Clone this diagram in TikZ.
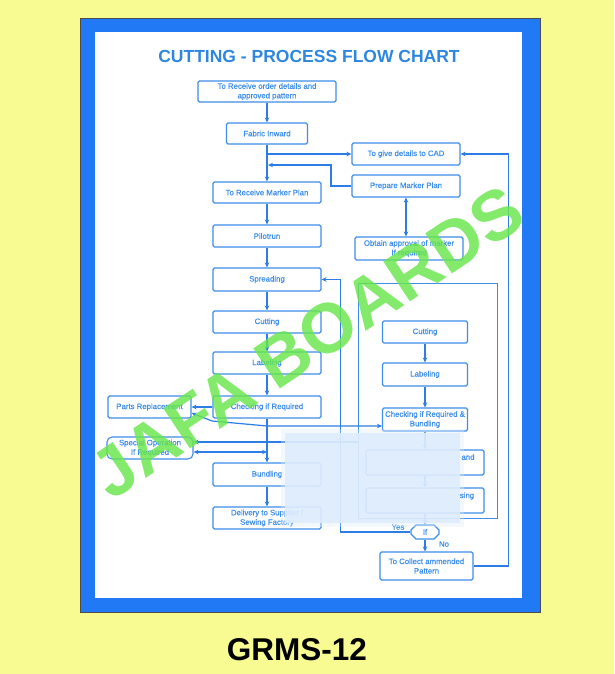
\documentclass[tikz,border=0pt]{standalone}
\usepackage{fontspec}
\setmainfont{Liberation Sans}
\newfontfamily\boxfont[FakeBold=0.5]{Liberation Sans}
\usetikzlibrary{arrows.meta,shapes.misc}
\definecolor{bgyellow}{RGB}{248,250,146}
\definecolor{frameblue}{RGB}{33,121,245}
\definecolor{chart}{RGB}{62,142,236}
\definecolor{chartline}{RGB}{45,125,230}
\definecolor{titleblue}{RGB}{45,135,225}
\definecolor{wmgreen}{RGB}{104,230,76}
\definecolor{blurblue}{RGB}{222,236,252}
\begin{document}
\begin{tikzpicture}[x=1pt,y=-1pt,
  box/.style={draw=chart, line width=1.1pt, rounded corners=1.5pt, text=chart,
    font=\boxfont\fontsize{7.8}{9.5}\selectfont, align=center, inner sep=0pt,
    minimum width=108pt, minimum height=22pt},
  conn/.style={draw=chartline, line width=1.2pt, -{Stealth[length=5pt,width=4.5pt]}},
  dconn/.style={draw=chartline, line width=1.2pt, {Stealth[length=5pt,width=4.5pt]}-{Stealth[length=5pt,width=4.5pt]}},
  lbl/.style={text=chart, font=\boxfont\fontsize{7.8}{9.5}\selectfont, inner sep=0pt}]
\fill[bgyellow] (0,0) rectangle (614,674);
\useasboundingbox (0,0) rectangle (614,674);
\fill[frameblue] (80,18) rectangle (540,612);
\draw[black!70, line width=0.8pt] (80,18) rectangle (540,612);
\fill[white] (95,32) rectangle (522,598);

\node[text=titleblue, font=\bfseries\fontsize{17.5}{20}\selectfont] (title) at (309,56) {CUTTING - PROCESS FLOW CHART};

% left column
\node[box, minimum width=138pt, minimum height=21pt] (recv) at (267,91.5) {To Receive order details and\\approved pattern};
\node[box, minimum width=81pt, minimum height=21pt] (fabric) at (267,133.5) {Fabric Inward};
\node[box, minimum height=21pt] (rmp) at (267,192.5) {To Receive Marker Plan};
\node[box] (pilot) at (267,236) {Pilotrun};
\node[box, minimum height=23pt] (spread) at (267,279.5) {Spreading};
\node[box] (cut) at (267,322) {Cutting};
\node[box] (label) at (267,363) {Labeling};
\node[box] (check) at (267,407) {Checking if Required};
\node[box, minimum height=23pt] (bundle) at (267,474.5) {Bundling};
\node[box] (deliver) at (267,518) {Delivery to Supplier /\\Sewing Factory};
\node[box, minimum width=83pt] (parts) at (149.5,407) {Parts Replacement};
\node[box, minimum width=86pt, rounded corners=5pt] (special) at (150,448) {Special Operation\\If Required};

% upper right
\node[box] (cad) at (406,154) {To give details to CAD};
\node[box] (prep) at (406,186) {Prepare Marker Plan};
\node[box, minimum height=23pt] (obtain) at (409,248.5) {Obtain approval of marker\\If required};

% right group
\node[draw=chart, line width=1pt, inner sep=0pt, minimum width=139pt, minimum height=235pt] (group) at (427.5,400.5) {};
\node[box, minimum width=85pt] (rcut) at (425,332) {Cutting};
\node[box, minimum width=85pt, minimum height=23pt] (rlabel) at (425,374.5) {Labeling};
\node[box, minimum width=85pt, minimum height=23pt] (rcheck) at (425,419.5) {Checking if Required \&\\Bundling};
\node[box, minimum width=118pt, minimum height=25pt] (rb1) at (425,462.5) {};
\node[box, minimum width=118pt, minimum height=25pt] (rb2) at (425,500.5) {};
\node[box, chamfered rectangle, chamfered rectangle xsep=6pt, chamfered rectangle ysep=5pt, rounded corners=0pt, minimum width=28pt, minimum height=14pt] (ifn) at (425,532) {If};
\node[box, minimum width=93pt, minimum height=28pt] (collect) at (426.5,566) {To Collect ammended\\Pattern};

% connectors
\draw[conn] (recv.south) -- (fabric.north);
\draw[conn] (fabric.south) -- (rmp.north);
\draw[conn] (fabric.south |- cad.west) -- (cad.west);
\coordinate (j2) at (268,165);
\draw[conn] (prep.west) -- (331,186) -- (331,165) -- (j2);
\draw[dconn] (prep.south) -- (prep.south |- obtain.north);
\draw[conn] (rmp.south) -- (pilot.north);
\draw[conn] (pilot.south) -- (spread.north);
\draw[conn] (spread.south) -- (cut.north);
\draw[conn] (cut.south) -- (label.north);
\draw[conn] (label.south) -- (check.north);
\draw[conn] (check.south) -- (bundle.north);
\draw[conn] (bundle.south) -- (deliver.north);
\draw[conn] (check.west) -- (parts.east);
\draw[dconn] ([yshift=-6pt]parts.east) -- (212,421) -- (267,426) -- ([yshift=-6.5pt]rcheck.west);
\draw[conn] ([yshift=6pt]special.east -| group.west) -- ([yshift=6pt]special.east);
\draw[dconn] ([yshift=-4pt]special.east) -- ([yshift=-4pt]special.east -| check.south);
\draw[conn] (rcut.south) -- (rlabel.north);
\draw[conn] (rlabel.south) -- (rcheck.north);
\draw[conn] (rcheck.south) -- (rb1.north);
\draw[conn] (rb1.south) -- (rb2.north);
\draw[conn] (rb2.south) -- (ifn.north);
\draw[conn] (ifn.west) -| ([xshift=19pt]spread.east) -- (spread.east);
\draw[conn] (ifn.south) -- (ifn.south |- collect.north);
\draw[conn] (collect.east) -| ([xshift=48pt]cad.east) -- (cad.east);
\node[lbl] (yes) at (398,527) {Yes};
\node[lbl] (no) at (444,544) {No};

% blurred patch
\fill[blurblue, opacity=0.35] (281,429) rectangle (464,527);
\fill[blurblue, opacity=0.88] (285,433) rectangle (460,523);
\node[lbl] (andtxt) at (468,457) {and};
\node[lbl] (singtxt) at (467,496) {sing};

% watermark
\node[text=wmgreen, opacity=0.82, font=\fontsize{70}{70}\selectfont\bfseries, rotate=33.7, inner sep=0pt] (wm) at (307,342) {JAFA BOARDS};

\node[font=\fontsize{31.5}{33}\selectfont\bfseries, inner sep=0pt] (grms) at (297,650) {GRMS-12};
\end{tikzpicture}
\end{document}
